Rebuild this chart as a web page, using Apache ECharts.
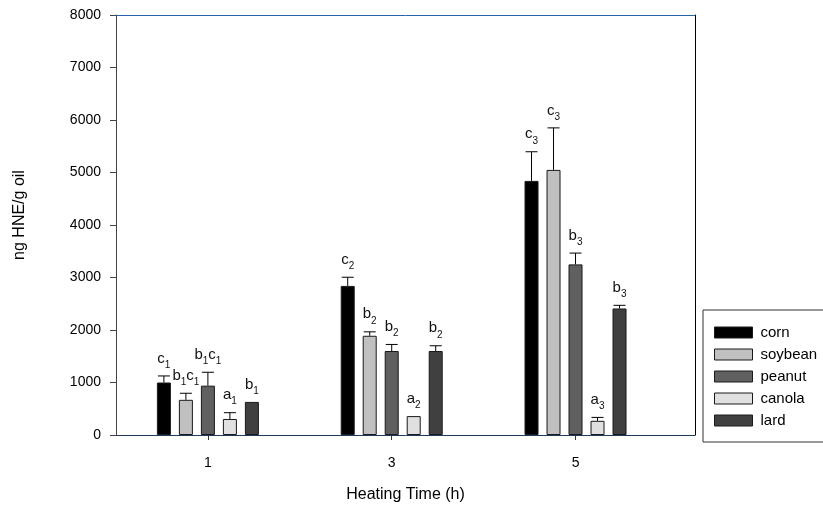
<!DOCTYPE html>
<html><head><meta charset="utf-8">
<script src="https://cdn.jsdelivr.net/npm/echarts@6/dist/echarts.min.js"></script>
<style>html,body{margin:0;padding:0;background:#fff}#c{width:823px;height:512px}</style>
</head><body><div id="c"></div>
<script>
const hours = [1, 3, 5];
const seriesNames = ['corn', 'soybean', 'peanut', 'canola', 'lard'];
const corn = [1000, 2840, 4840];
const soybean = [670, 1890, 5050];
const peanut = [940, 1600, 3250];
const canola = [305, 360, 270];
const lard = [630, 1600, 2410];
const cornErr = [125, 165, 555];
const soybeanErr = [125, 75, 800];
const peanutErr = [255, 125, 215];
const canolaErr = [120, 0, 65];
const lardErr = [0, 100, 60];
const cornLbl = ['c1', 'c2', 'c3'];
const soybeanLbl = ['b1c1', 'b2', 'c3'];
const peanutLbl = ['b1c1', 'b2', 'b3'];
const canolaLbl = ['a1', 'a2', 'a3'];
const lardLbl = ['b1', 'b2', 'b3'];
const xTickLabels = [1, 3, 5];
const yTicks = [0, 1000, 2000, 3000, 4000, 5000, 6000, 7000, 8000];

const values = [corn, soybean, peanut, canola, lard];
const errs = [cornErr, soybeanErr, peanutErr, canolaErr, lardErr];
const lbls = [cornLbl, soybeanLbl, peanutLbl, canolaLbl, lardLbl];
const colors = ['#000000', '#c0c0c0', '#606060', '#e0e0e0', '#404040'];
const BAR_W = 14, BAR_GAP = 8;
const FONT = 'Liberation Sans, Arial, sans-serif';

function richLabel(s) {
  let out = '';
  for (const ch of s) {
    out += /[0-9]/.test(ch) ? '{s|' + ch + '}' : '{n|' + ch + '}';
  }
  return out;
}

const series = [];
seriesNames.forEach((name, i) => {
  series.push({
    name: name, type: 'bar', xAxisIndex: 0, yAxisIndex: 0,
    barWidth: BAR_W, barGap: (BAR_GAP / BAR_W * 100) + '%',
    itemStyle: { color: colors[i], borderColor: '#1a1a1a', borderWidth: 1 },
    data: hours.map((h, k) => [h, values[i][k]]),
    z: 2
  });
});
seriesNames.forEach((name, i) => {
  const off = (i - 2) * (BAR_W + BAR_GAP);
  series.push({
    name: name + '_err', type: 'custom', xAxisIndex: 0, yAxisIndex: 0, z: 3,
    data: hours.map((h, k) => [h, values[i][k], errs[i][k], k]),
    encode: { x: 0, y: 1 },
    renderItem: function (params, api) {
      const x = api.value(0), v = api.value(1), e = api.value(2), k = api.value(3);
      const base = api.coord([x, v]);
      const top = api.coord([x, v + e]);
      const cx = base[0] + off;
      const children = [];
      if (e > 0) {
        children.push({ type: 'line', shape: { x1: cx, y1: base[1], x2: cx, y2: top[1] }, style: { stroke: '#000', lineWidth: 1 } });
        children.push({ type: 'line', shape: { x1: cx - 6, y1: top[1], x2: cx + 6, y2: top[1] }, style: { stroke: '#000', lineWidth: 1 } });
      }
      children.push({
        type: 'text', x: cx, y: top[1] - 6,
        style: {
          text: richLabel(lbls[i][k]), align: 'center', verticalAlign: 'bottom',
          rich: {
            n: { fontSize: 15, fontFamily: FONT, fill: '#111', lineHeight: 19, verticalAlign: 'top' },
            s: { fontSize: 10, fontFamily: FONT, fill: '#111', lineHeight: 19, verticalAlign: 'bottom' }
          }
        }
      });
      return { type: 'group', children: children };
    }
  });
});

const chart = echarts.init(document.getElementById('c'), null, { renderer: 'canvas' });
chart.setOption({
  animation: false,
  backgroundColor: '#fff',
  textStyle: { fontFamily: FONT },
  grid: { left: 116, right: 128, top: 15, bottom: 77, containLabel: false },
  legend: {
    data: seriesNames, orient: 'vertical', left: 703, top: 310,
    itemWidth: 38, itemHeight: 11, itemGap: 7,
    padding: [15, 80, 14, 11],
    borderColor: '#333', borderWidth: 1,
    icon: 'rect',
    itemStyle: { borderColor: '#1a1a1a', borderWidth: 1 },
    textStyle: { fontSize: 15, color: '#000', fontFamily: FONT, padding: [0, 0, 0, 3] }
  },
  xAxis: [{
    type: 'value', min: 0, max: 6.3, position: 'bottom',
    axisLine: { show: true, onZero: false, lineStyle: { color: '#1f3a5a', width: 1 } },
    axisTick: { show: true, customValues: xTickLabels, length: 5, lineStyle: { color: '#333' } },
    axisLabel: { customValues: xTickLabels, fontSize: 14, color: '#000', margin: 21, fontFamily: FONT },
    splitLine: { show: false },
    name: 'Heating Time (h)', nameLocation: 'middle', nameGap: 52,
    nameTextStyle: { fontSize: 16, color: '#000', fontFamily: FONT }
  }, {
    type: 'value', min: 0, max: 6.3, position: 'top',
    axisLine: { show: true, onZero: false, lineStyle: { color: '#2a62a8', width: 1 } },
    axisTick: { show: false }, axisLabel: { show: false }, splitLine: { show: false }
  }],
  yAxis: [{
    type: 'value', min: yTicks[0], max: yTicks[yTicks.length - 1], interval: 1000,
    axisLine: { show: true, onZero: false, lineStyle: { color: '#444', width: 1 } },
    axisTick: { show: true, length: 6, lineStyle: { color: '#444' } },
    axisLabel: { fontSize: 14, color: '#000', margin: 15, fontFamily: FONT, formatter: v => String(v) },
    splitLine: { show: false },
    name: 'ng HNE/g oil', nameLocation: 'middle', nameGap: 88,
    nameTextStyle: { fontSize: 16, color: '#000', fontFamily: FONT, padding: [0, 0, 0, 20] }
  }, {
    type: 'value', min: 0, max: 8000, position: 'right',
    axisLine: { show: true, onZero: false, lineStyle: { color: '#000', width: 1 } },
    axisTick: { show: false }, axisLabel: { show: false }, splitLine: { show: false }
  }],
  series: series
});
</script>
</body></html>
